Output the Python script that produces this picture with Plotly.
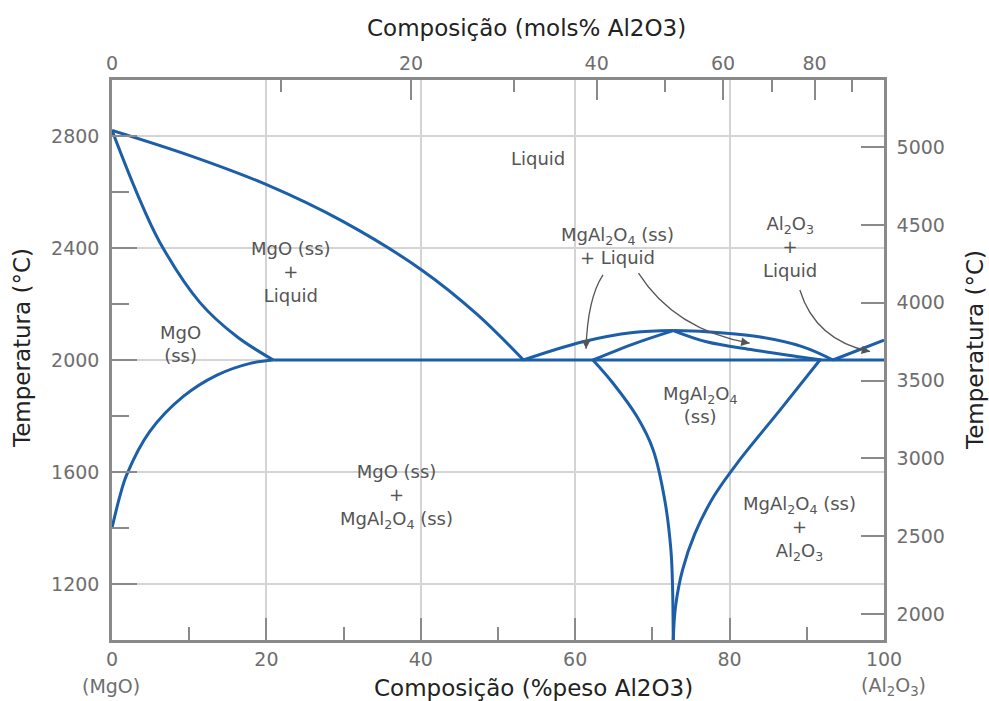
import plotly.graph_objects as go

# ---------------- data (wt% Al2O3, temperature in °C) ----------------
liq_mgo_wt = [0, 10.1, 19.95, 29.9, 40.2, 47.3, 53.3]
liq_mgo_T = [2820, 2730, 2627, 2495, 2320, 2163, 2000]

sol_mgo_wt = [0, 3.2, 6.2, 11.4, 16.2, 20.9]
sol_mgo_T = [2820, 2598, 2420, 2205, 2083, 2000]

solv_mgo_wt = [0, 1.0, 1.9, 4.9, 9.2, 13.6, 17.9, 20.9]
solv_mgo_T = [1400, 1512, 1590, 1745, 1869, 1946, 1988, 2000]

eut_wt = [20.9, 100]
eut_T = [2000, 2000]

spl_liq_left_wt = [53.3, 61.0, 67.5, 72.7]
spl_liq_left_T = [2000, 2065, 2098, 2105]

spl_sol_left_wt = [62.3, 67.5, 72.7]
spl_sol_left_T = [2000, 2057, 2105]

spl_liq_right_wt = [72.7, 77.0, 83.1, 89.4, 93.4]
spl_liq_right_T = [2105, 2101, 2086, 2048, 2000]

spl_sol_right_wt = [72.7, 77.0, 83.1, 89.4, 91.9]
spl_sol_right_T = [2105, 2065, 2036, 2010, 2000]

al2o3_liq_wt = [93.4, 100]
al2o3_liq_T = [2000, 2071]

spl_solv_left_wt = [62.3, 64.9, 68.0, 70.1, 71.6, 72.4, 72.6, 72.7]
spl_solv_left_T = [2000, 1917, 1798, 1679, 1500, 1321, 1202, 1000]

spl_solv_right_wt = [91.7, 86.5, 81.3, 78.0, 75.5, 73.9, 73.0, 72.7]
spl_solv_right_T = [2000, 1820, 1643, 1515, 1380, 1250, 1120, 1000]

curves = [
    (liq_mgo_wt, liq_mgo_T), (sol_mgo_wt, sol_mgo_T), (solv_mgo_wt, solv_mgo_T),
    (eut_wt, eut_T), (spl_liq_left_wt, spl_liq_left_T), (spl_sol_left_wt, spl_sol_left_T),
    (spl_liq_right_wt, spl_liq_right_T), (spl_sol_right_wt, spl_sol_right_T),
    (al2o3_liq_wt, al2o3_liq_T), (spl_solv_left_wt, spl_solv_left_T),
    (spl_solv_right_wt, spl_solv_right_T),
]

# axis ticks
bottom_major = [0, 20, 40, 60, 80, 100]
bottom_minor = [10, 30, 50, 70, 90]
left_major = [1200, 1600, 2000, 2400, 2800]
left_minor = [1400, 1800, 2200, 2600]
right_ticks = [2000, 2500, 3000, 3500, 4000, 4500, 5000]
top_major_mol = [0, 20, 40, 60, 80]
top_minor_mol = [10, 30, 50, 70, 90]

T_MIN, T_MAX = 1000, 3000
M_MGO, M_AL2O3 = 40.30, 101.96


def mol_to_wt(m):
    a = m / 100 * M_AL2O3
    b = (1 - m / 100) * M_MGO
    return 100 * a / (a + b)


def c_to_f(c):
    return c * 9 / 5 + 32


BLUE = "#1c5ea8"
AX = "#8a8a8a"
GRID = "#d4d4d4"
TICKFONT = dict(family="DejaVu Sans", size=19, color="#6e6e6e")
LABFONT = dict(family="DejaVu Sans", size=18, color="#555555")
TITLEFONT = dict(family="DejaVu Sans", size=23, color="#222222")

fig = go.Figure()
for wx, ty in curves:
    fig.add_trace(go.Scatter(x=wx, y=ty, mode="lines",
                             line=dict(color=BLUE, width=3, shape="spline", smoothing=1.0),
                             showlegend=False, hoverinfo="skip"))

# invisible trace to activate the secondary axes
fig.add_trace(go.Scatter(x=[0, 100], y=[c_to_f(T_MIN), c_to_f(T_MAX)], xaxis="x2", yaxis="y2",
                         mode="markers", marker=dict(opacity=0), showlegend=False, hoverinfo="skip"))

fig.update_layout(
    width=989, height=701,
    margin=dict(l=112, r=105, t=80, b=61),
    paper_bgcolor="white", plot_bgcolor="white",
    xaxis=dict(range=[0, 100], tickvals=bottom_major, ticks="inside", ticklen=22, tickwidth=2,
               tickcolor=AX, showline=True, linecolor=AX, linewidth=2.5, showgrid=True,
               gridcolor=GRID, gridwidth=1.5, zeroline=False, tickfont=TICKFONT,
               ticklabelstandoff=0,
               minor=dict(tickvals=bottom_minor, ticks="inside", ticklen=13,
                          tickwidth=2, tickcolor=AX, showgrid=False)),
    yaxis=dict(range=[T_MIN, T_MAX], tickvals=left_major, ticks="inside", ticklen=25, tickwidth=2,
               tickcolor=AX, showline=True, linecolor=AX, linewidth=2.5, showgrid=True,
               gridcolor=GRID, gridwidth=1.5, zeroline=False, tickfont=TICKFONT,
               ticklabelstandoff=6,
               minor=dict(tickvals=left_minor, ticks="inside", ticklen=17,
                          tickwidth=2, tickcolor=AX, showgrid=False)),
    xaxis2=dict(range=[0, 100], overlaying="x", side="top",
                tickvals=[mol_to_wt(m) for m in top_major_mol],
                ticktext=[str(m) for m in top_major_mol],
                ticks="inside", ticklen=20, tickwidth=2, tickcolor=AX,
                showline=True, linecolor=AX, linewidth=2.5, showgrid=False, zeroline=False,
                tickfont=TICKFONT, ticklabelstandoff=0,
                minor=dict(tickvals=[mol_to_wt(m) for m in top_minor_mol], ticks="inside",
                           ticklen=12, tickwidth=2, tickcolor=AX, showgrid=False)),
    yaxis2=dict(range=[c_to_f(T_MIN), c_to_f(T_MAX)], overlaying="y", side="right",
                tickvals=right_ticks, ticks="inside", ticklen=23, tickwidth=2, tickcolor=AX,
                showline=True, linecolor=AX, linewidth=2.5, showgrid=False, zeroline=False,
                tickfont=TICKFONT, ticklabelstandoff=6),
)


def px_x(px):
    return (px - 112) / 772


def px_y(py):
    return (640 - py) / 560


def paper_text(text, px, py, font, angle=0):
    fig.add_annotation(text=text, xref="paper", yref="paper", x=px_x(px), y=px_y(py),
                       xanchor="center", yanchor="middle", showarrow=False,
                       font=font, textangle=angle)


# axis titles
paper_text("Composição (mols% Al2O3)", 526, 28, TITLEFONT)
paper_text("Composição (%peso Al2O3)", 533, 688, TITLEFONT)
paper_text("Temperatura (°C)", 22, 348, TITLEFONT, -90)
paper_text("Temperatura (°C)", 975, 350, TITLEFONT, -90)
paper_text("(MgO)", 111, 686, TICKFONT)
paper_text("(Al<sub>2</sub>O<sub>3</sub>)", 893, 686, TICKFONT)

# phase labels (wt%, °C)
labels = [
    ("Liquid", 55.2, 2721),
    ("MgO (ss)<br>+<br>Liquid", 23.2, 2314),
    ("MgO<br>(ss)", 8.9, 2057),
    ("MgO (ss)<br>+<br>MgAl<sub>2</sub>O<sub>4</sub> (ss)", 36.9, 1511),
    ("MgAl<sub>2</sub>O<sub>4</sub> (ss)<br>+ Liquid", 65.5, 2407),
    ("Al<sub>2</sub>O<sub>3</sub><br>+<br>Liquid", 87.8, 2404),
    ("MgAl<sub>2</sub>O<sub>4</sub><br>(ss)", 76.2, 1839),
    ("MgAl<sub>2</sub>O<sub>4</sub> (ss)<br>+<br>Al<sub>2</sub>O<sub>3</sub>", 89.1, 1400),
]
for txt, lx, ly in labels:
    fig.add_annotation(text=txt, x=lx, y=ly, xref="x", yref="y", showarrow=False,
                       xanchor="center", yanchor="middle", font=LABFONT)

# curved pointer arrows (start, control, end) in wt% / °C
arrows = [
    ((63.6, 2304), (61.6, 2220), (61.4, 2040)),
    ((68.2, 2310), (72.9, 2107), (82.6, 2060)),
    ((89.1, 2250), (91.1, 2071), (98.2, 2030)),
]
for (sx, sy), (cx, cy), (ex, ey) in arrows:
    fig.add_shape(type="path", xref="x", yref="y",
                  path=f"M {sx},{sy} Q {cx},{cy} {ex},{ey}",
                  line=dict(color="#555555", width=1.3))
    tx = ex - 0.08 * (ex - cx)
    ty = ey - 0.08 * (ey - cy)
    fig.add_annotation(x=ex, y=ey, ax=tx, ay=ty, xref="x", yref="y", axref="x", ayref="y",
                       text="", showarrow=True, arrowhead=2, arrowsize=1.3,
                       arrowwidth=1.3, arrowcolor="#555555")

fig.write_html("out.html")
